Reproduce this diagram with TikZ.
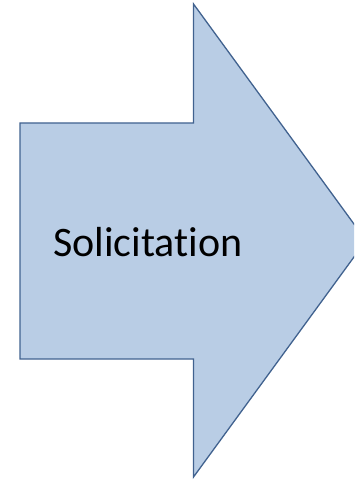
\documentclass[tikz,border=0pt]{standalone}
\usepackage{fontspec}
\setmainfont[Ligatures={NoCommon}]{Carlito}
\definecolor{arrowfill}{HTML}{B9CDE5}
\definecolor{arrowline}{HTML}{41628F}
\begin{document}
\begin{tikzpicture}[x=1pt,y=-1pt,
  blockarrow/.style={fill=arrowfill,draw=arrowline,line width=1.3pt,line join=miter},
  label/.style={font=\fontsize{42}{48}\selectfont,text=black,anchor=base,inner sep=0pt}]
\useasboundingbox (0,0) rectangle (354,481);
\clip (0,0) rectangle (354,481);
\draw[blockarrow] (20,123) -- (193.5,123) -- (193.5,4) -- (366,240.5) -- (193.5,477) -- (193.5,359) -- (20,359) -- cycle;
\node[label] (lbl) at (148,256) {Solicitation};
\end{tikzpicture}
\end{document}
